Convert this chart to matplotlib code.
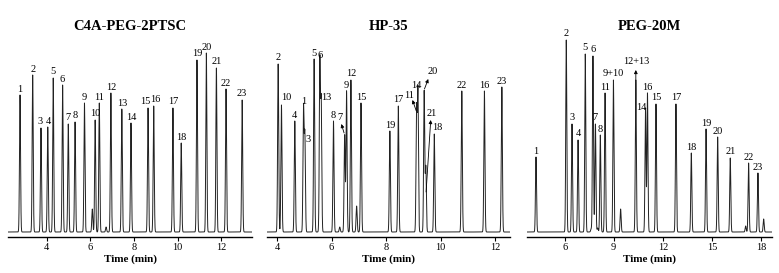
"""Three GC chromatograms: C4A-PEG-2PTSC, HP-35 and PEG-20M columns."""
import matplotlib
matplotlib.use("Agg")
import matplotlib.pyplot as plt
import numpy as np

plt.rcParams.update({
    "font.family": "Liberation Serif",
    "font.size": 7.5,
})

# ---- peak tables (retention time in min, height in arbitrary units) ----
c4a_names = [str(i) for i in range(1, 24)]
c4a_times = [2.78, 3.36, 3.74, 4.05, 4.30, 4.73, 4.99, 5.30, 5.73, 6.22, 6.41,
             6.94, 7.44, 7.86, 8.64, 8.90, 9.78, 10.16, 10.88, 11.31, 11.77,
             12.21, 12.95]
c4a_heights = [137, 157, 104, 105, 154, 147, 108, 110, 129, 112, 129, 139,
               123, 109, 124, 126, 124, 89, 172, 179, 164, 143, 132]
c4a_minor_times = [6.09, 6.72]
c4a_minor_heights = [23, 5]

hp_names = ["2", "10", "4", "1", "3", "5", "6", "13", "8", "7", "9", "12",
            "15", "19", "17", "11", "14", "20", "21", "18", "22", "16", "23"]
hp_times = [4.04, 4.16, 4.65, 4.97, 5.02, 5.36, 5.57, 5.62, 6.07, 6.48, 6.55,
            6.71, 7.08, 8.14, 8.45, 9.12, 9.17, 9.40, 9.46, 9.77, 10.78,
            11.61, 12.25]
hp_heights = [168, 127, 111, 124, 96, 173, 171, 129, 111, 97, 141, 152, 129,
              101, 126, 122, 141, 141, 65, 98, 141, 141, 145]
hp_minor_times = [6.30, 6.92]
hp_minor_heights = [5, 26]

peg_names = ["1", "2", "3", "4", "5", "6", "7", "8", "11", "9+10", "12+13",
             "14", "16", "15", "17", "18", "19", "20", "21", "22", "23"]
peg_times = [4.25, 6.10, 6.45, 6.82, 7.26, 7.73, 7.88, 8.18, 8.47, 8.98,
             10.35, 10.94, 11.06, 11.58, 12.80, 13.74, 14.64, 15.35, 16.12,
             17.24, 17.81]
peg_heights = [75, 192, 108, 92, 178, 176, 108, 97, 139, 152, 152, 124, 139,
               128, 128, 79, 103, 95, 74, 69, 59]
peg_minor_times = [7.62, 8.02, 9.42, 17.06, 18.16]
peg_minor_heights = [3, 4, 23, 6, 13]

# ---- layout ----
LABEL_GAP = 6
panels = [
    dict(title="C4A-PEG-2PTSC", names=c4a_names, times=c4a_times,
         heights=c4a_heights, mt=c4a_minor_times, mh=c4a_minor_heights,
         xlim=(2.23, 13.4), ticks=[4, 6, 8, 10, 12], sigma=0.024,
         px=(8, 252),
         labels={"3": (3.72, 110), "4": (4.08, 111), "15": (8.52, 130),
                 "16": (8.98, 132)},
         arrows=[]),
    dict(title="HP-35", names=hp_names, times=hp_times, heights=hp_heights,
         mt=hp_minor_times, mh=hp_minor_heights,
         xlim=(3.63, 12.55), ticks=[4, 6, 8, 10, 12], sigma=0.02,
         px=(267, 510),
         labels={"10": (4.32, 134), "3": (5.14, 92), "13": (5.80, 134),
                 "7": (6.30, 114), "11": (8.84, 137), "14": (9.12, 147),
                 "20": (9.70, 160), "21": (9.69, 119), "18": (9.87, 104)},
         arrows=[((6.46, 99), (6.36, 108)), ((9.11, 121), (8.97, 132)),
                 ((9.41, 143), (9.55, 153)), ((9.47, 40), (9.64, 112))]),
    dict(title="PEG-20M", names=peg_names, times=peg_times,
         heights=peg_heights, mt=peg_minor_times, mh=peg_minor_heights,
         xlim=(3.70, 18.67), ticks=[6, 9, 12, 15, 18], sigma=0.032,
         px=(527, 772),
         labels={"12+13": (10.35, 170), "14": (10.70, 124)},
         arrows=[((10.35, 152), (10.35, 162))]),
]

W, H = 779, 273
fig = plt.figure(figsize=(W / 100, H / 100), dpi=100)
ax_bottom, ax_top = 237, 35

for p in panels:
    x0, x1 = p["px"]
    ax = fig.add_axes([x0 / W, 1 - ax_bottom / H, (x1 - x0) / W,
                       (ax_bottom - ax_top) / H])
    t = np.linspace(p["xlim"][0], p["xlim"][1], 30000)
    signal = np.zeros_like(t)
    for t0, h in zip(list(p["times"]) + p["mt"], list(p["heights"]) + p["mh"]):
        signal += h * np.exp(-0.5 * ((t - t0) / p["sigma"]) ** 2)
    ax.plot(t, signal, color="#222222", lw=0.7)

    for name, t0, h in zip(p["names"], p["times"], p["heights"]):
        lx, ly = p["labels"].get(name, (t0, h + LABEL_GAP))
        ax.text(lx, ly, name, ha="center", va="center", fontsize=7.5)
    for tail, head in p["arrows"]:
        ax.annotate("", xy=head, xytext=tail,
                    arrowprops=dict(arrowstyle="-|>", lw=0.6, color="black",
                                    mutation_scale=5, shrinkA=0, shrinkB=0))

    ax.set_xlim(*p["xlim"])
    ax.set_ylim(-5, ax_bottom - 5 - ax_top)
    ax.set_xticks(p["ticks"])
    ax.set_yticks([])
    for side in ["left", "right", "top"]:
        ax.spines[side].set_visible(False)
    ax.spines["bottom"].set_linewidth(1.0)
    ax.tick_params(axis="x", length=3, width=0.8, pad=1, labelsize=7.5)
    ax.set_xlabel("Time (min)", fontsize=8, fontweight="bold", labelpad=2)
    ax.patch.set_alpha(0)

    fig.text((x0 + x1) / 2 / W, 1 - 27 / H, p["title"], ha="center",
             va="center", fontsize=10.5, fontweight="bold")

fig.savefig("out.png", dpi=100)
